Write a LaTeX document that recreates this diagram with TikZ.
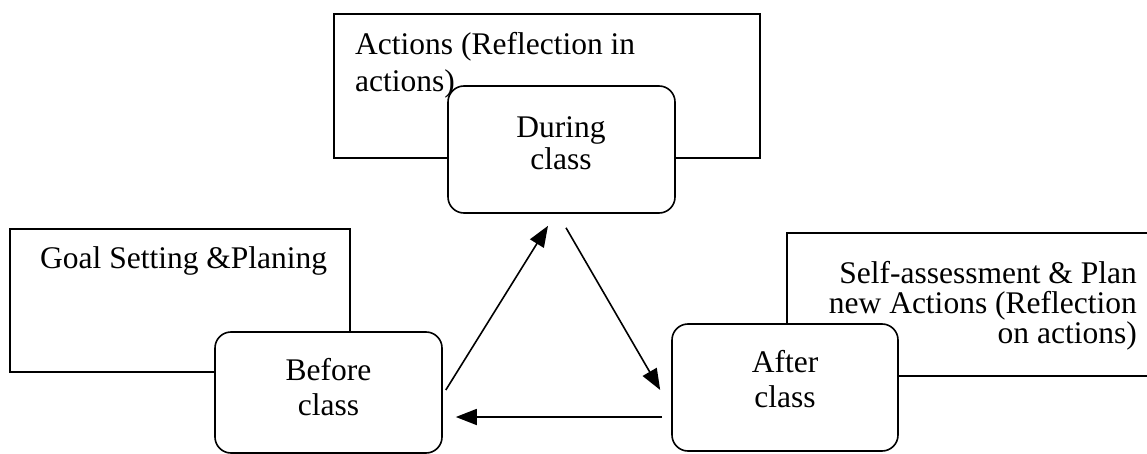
\documentclass[tikz,border=0pt]{standalone}
\usepackage{fontspec}
\setmainfont{Liberation Serif}
\usetikzlibrary{arrows.meta}
\begin{document}
\begin{tikzpicture}[x=1pt,y=1pt,
  frame/.style={draw=black,line width=1.6pt},
  phase/.style={draw=black,fill=white,line width=1.6pt,rounded corners=16pt,inner sep=0pt},
  txt/.style={inner sep=0pt,font=\fontsize{31.5}{37}\selectfont},
  flow/.style={line width=1.6pt,-{Triangle[length=21pt,width=16pt]}}]
\useasboundingbox (0,0) rectangle (1147,-454);
% text frames
\draw[frame] (334,-14) rectangle (760,-158);
\draw[frame] (10,-229) rectangle (350,-372);
\draw[frame] (1150,-233) -- (787,-233) -- (787,-376) -- (1150,-376);
% frame texts (base anchor = baseline of last line)
\node[txt,anchor=base west,align=left] (acttxt) at (355,-92) {Actions (Reflection in\\actions)};
\node[txt,anchor=base west] (goaltxt) at (40,-268) {Goal Setting \&Planing};
\node[txt,anchor=base east,align=right,font=\fontsize{31.5}{30}\selectfont] (selftxt) at (1137,-343) {Self-assessment \& Plan\\new Actions (Reflection\\on actions)};
% phase boxes
\node[phase,minimum width=227pt,minimum height=127pt] (during) at (561.5,-149.5) {};
\node[phase,minimum width=227pt,minimum height=121pt] (before) at (328.5,-392.5) {};
\node[phase,minimum width=226pt,minimum height=127pt] (after) at (785,-387.5) {};
\node[txt,anchor=base,align=center,font=\fontsize{31.5}{32}\selectfont] (duringtxt) at (561,-170) {During\\class};
\node[txt,anchor=base,align=center,font=\fontsize{31.5}{34.5}\selectfont] (beforetxt) at (328.5,-415) {Before\\class};
\node[txt,anchor=base,align=center,font=\fontsize{31.5}{34.5}\selectfont] (aftertxt) at (785,-407) {After\\class};
% cycle arrows
\draw[flow] ([xshift=3pt,yshift=2.5pt]before.east) -- ([xshift=-13.5pt,yshift=-12pt]during.south);
\draw[flow] ([xshift=4.5pt,yshift=-14pt]during.south) -- ([xshift=-11pt,yshift=-2.5pt]after.west);
\draw[flow] ([xshift=-9pt,yshift=-29.5pt]after.west) -- ([xshift=13pt,yshift=-24.5pt]before.east);
\end{tikzpicture}
\end{document}
